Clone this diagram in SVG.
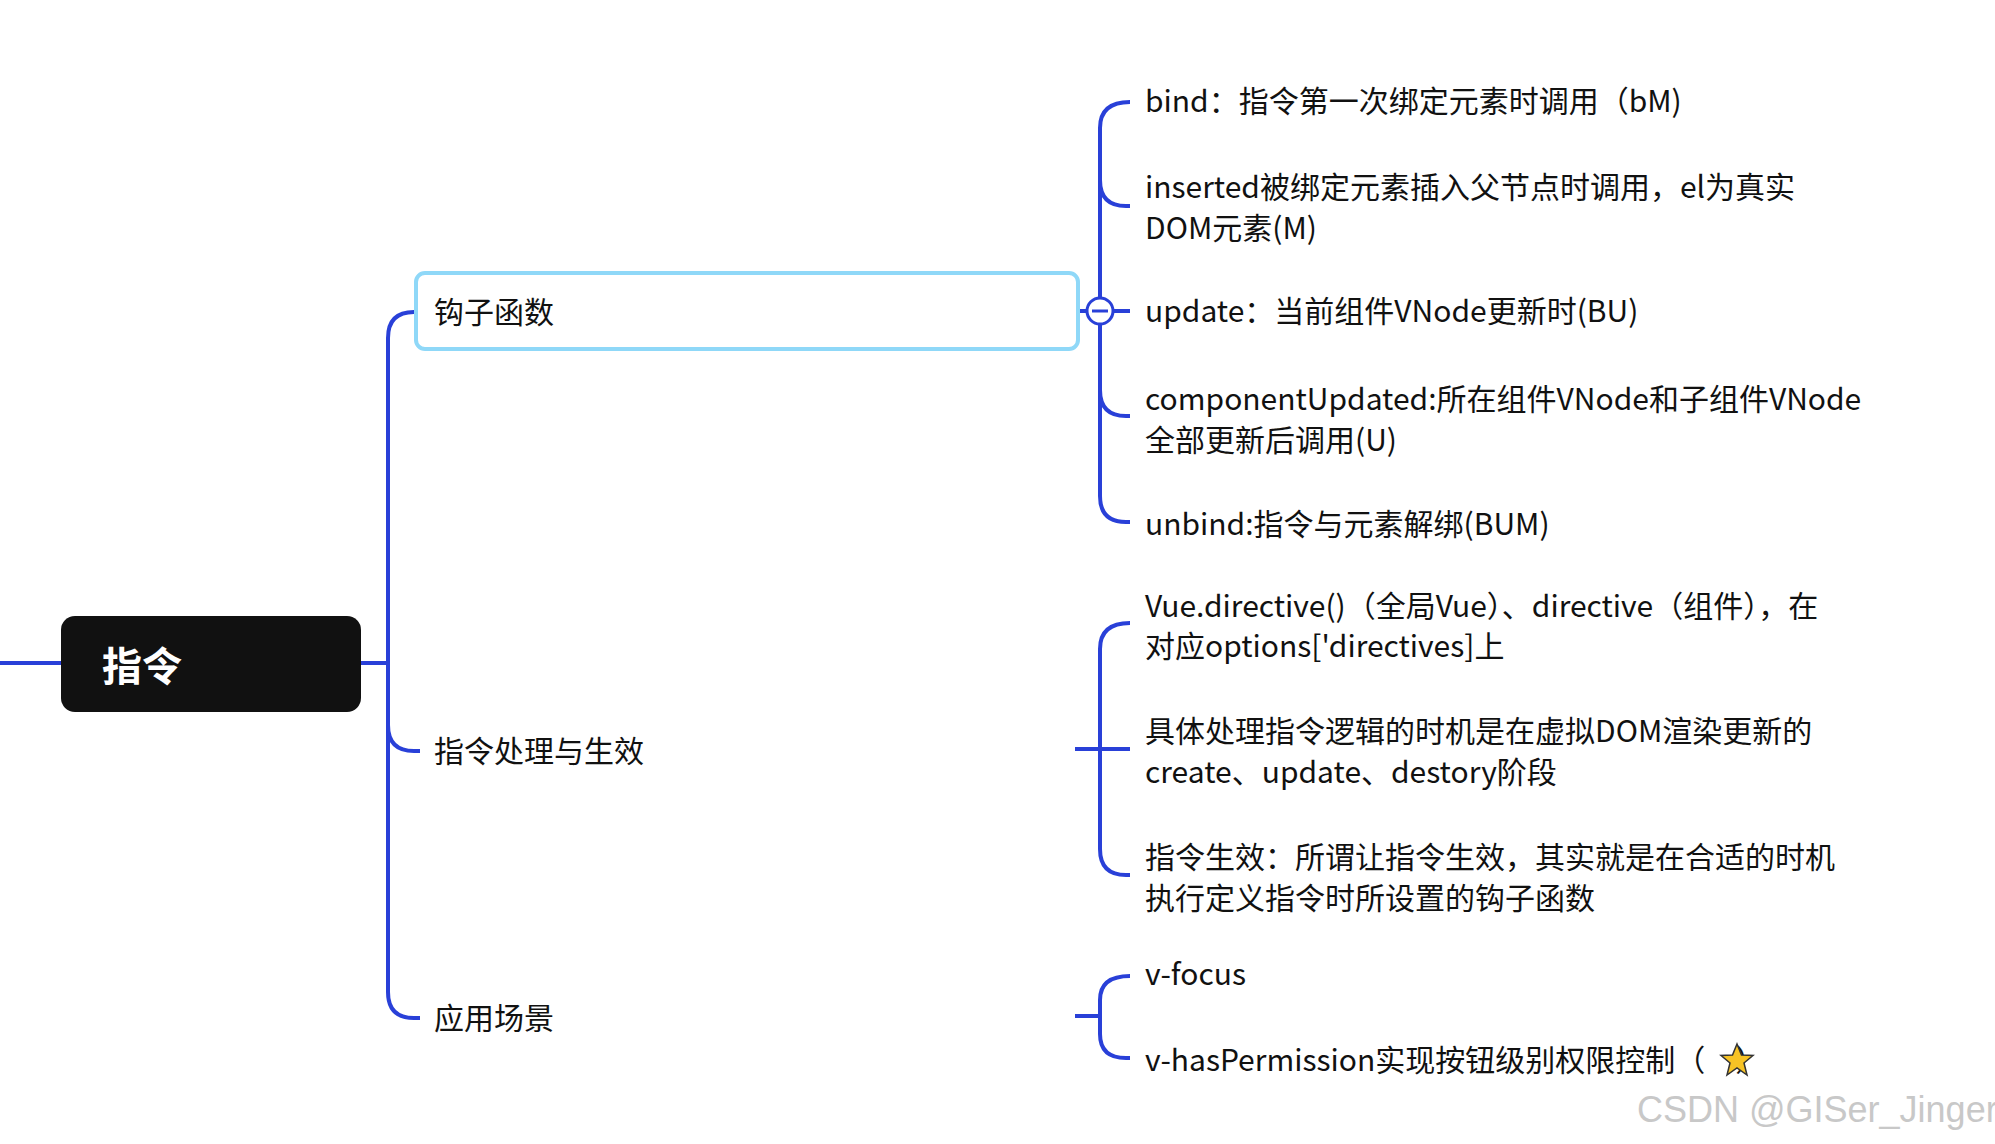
<svg xmlns="http://www.w3.org/2000/svg" width="1995" height="1144" viewBox="0 0 1995 1144">
<style>
.c{fill:none;stroke:#2940d8;stroke-width:4}
.t{font-family:"Noto Sans CJK SC","Noto Sans",sans-serif;font-size:30px;fill:#111}
</style>
<rect width="1995" height="1144" fill="#fff"/>
<g id="connectors">
<path class="c" d="M0 663H61M361 663H388"/>
<path class="c" d="M414 312Q388 312 388 338V992Q388 1018 414 1018H420"/>
<path class="c" d="M388 725Q388 751 414 751H420"/>
<path class="c" d="M1078 311H1130"/>
<path class="c" d="M1130 102Q1100 102 1100 128V496Q1100 522 1126 522H1130"/>
<path class="c" d="M1100 180Q1100 206 1126 206H1130M1100 390Q1100 416 1126 416H1130"/>
<circle cx="1100" cy="311" r="13" fill="#fff" stroke="#2940d8" stroke-width="3"/>
<path d="M1092 311H1108" stroke="#2940d8" stroke-width="3"/>
<path class="c" d="M1075 749H1100M1130 623Q1100 623 1100 649V849Q1100 875 1126 875H1130M1100 749H1130"/>
<path class="c" d="M1075 1016H1100M1130 976Q1100 976 1100 1000V1034Q1100 1058 1126 1058H1130"/>
</g>
<g id="root">
<rect x="61" y="616" width="300" height="96" rx="14" fill="#111"/>
<text x="102" y="681" font-family="'Noto Sans CJK SC',sans-serif" font-size="40" font-weight="bold" fill="#fff">指令</text>
</g>
<g id="n1">
<rect x="416" y="273" width="662" height="76" rx="9" fill="#fff" stroke="#8fd8f8" stroke-width="4"/>
<text class="t" x="434" y="323">钩子函数</text>
</g>
<g id="n2"><text class="t" x="434" y="762">指令处理与生效</text></g>
<g id="n3"><text class="t" x="434" y="1029">应用场景</text></g>
<g id="h1"><text class="t" x="1145" y="112">bind：指令第一次绑定元素时调用（bM)</text></g>
<g id="h2"><text class="t" x="1145" y="198">inserted被绑定元素插入父节点时调用，el为真实</text><text class="t" x="1145" y="239">DOM元素(M)</text></g>
<g id="h3"><text class="t" x="1145" y="322">update：当前组件VNode更新时(BU)</text></g>
<g id="h4"><text class="t" x="1145" y="410">componentUpdated:所在组件VNode和子组件VNode</text><text class="t" x="1145" y="451">全部更新后调用(U)</text></g>
<g id="h5"><text class="t" x="1145" y="535">unbind:指令与元素解绑(BUM)</text></g>
<g id="p1"><text class="t" x="1145" y="617">Vue.directive()（全局Vue）、directive（组件），在</text><text class="t" x="1145" y="657">对应options['directives]上</text></g>
<g id="p2"><text class="t" x="1145" y="742">具体处理指令逻辑的时机是在虚拟DOM渲染更新的</text><text class="t" x="1145" y="783">create、update、destory阶段</text></g>
<g id="p3"><text class="t" x="1145" y="868">指令生效：所谓让指令生效，其实就是在合适的时机</text><text class="t" x="1145" y="909">执行定义指令时所设置的钩子函数</text></g>
<g id="a1"><text class="t" x="1145" y="985">v-focus</text></g>
<g id="a2"><text class="t" x="1145" y="1071">v-hasPermission实现按钮级别权限控制（　）</text>
<polygon points="1737,1044 1741.5,1055 1753,1055.5 1744,1063 1747,1075 1737,1068 1727,1075 1730,1063 1721,1055.5 1732.5,1055" fill="#f7c325" stroke="#333" stroke-width="1.5"/></g>
<text x="1637" y="1122" font-family="'Liberation Sans',sans-serif" font-size="36" fill="#c8c8c8">CSDN @GISer_Jinger</text>
</svg>
